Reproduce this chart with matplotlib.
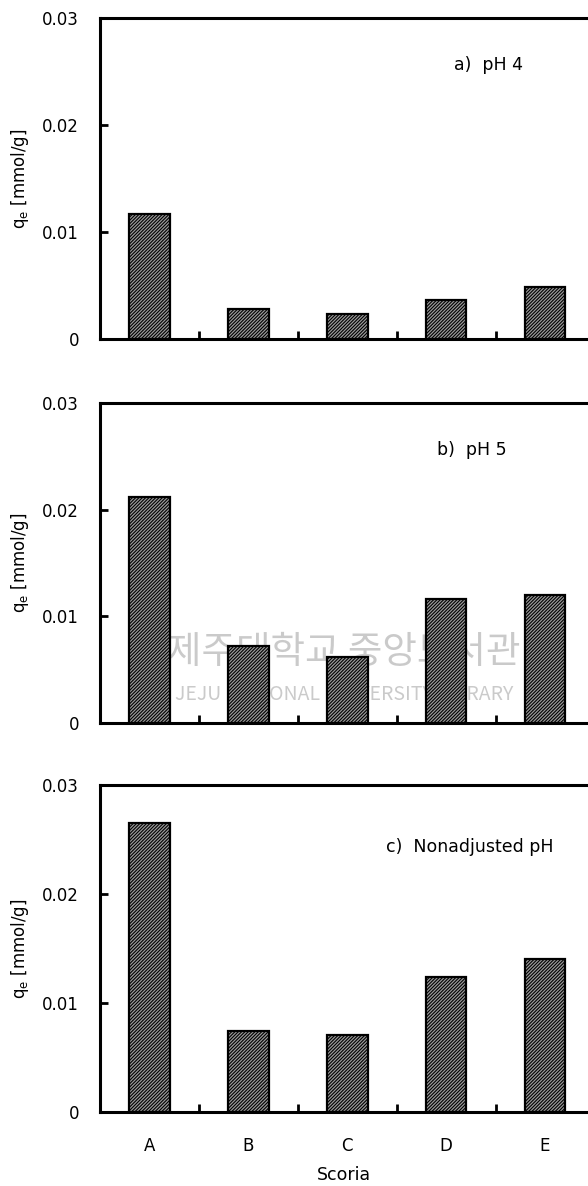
import matplotlib
matplotlib.use("Agg")
import matplotlib.pyplot as plt
from matplotlib.ticker import FixedLocator, FixedFormatter

categories = ["A", "B", "C", "D", "E"]
ph4 = [0.0117, 0.0028, 0.0023, 0.0036, 0.0049]
ph5 = [0.0212, 0.0072, 0.0062, 0.0116, 0.0120]
nonadj = [0.0265, 0.0074, 0.0071, 0.0124, 0.0140]
panel_labels = ["a)  pH 4", "b)  pH 5", "c)  Nonadjusted pH"]
ytick_vals = [0, 0.01, 0.02, 0.03]
ytick_labels = ["0", "0.01", "0.02", "0.03"]

plt.rcParams['font.family'] = ['DejaVu Sans']
plt.rcParams['hatch.linewidth'] = 0.8
plt.rcParams['hatch.color'] = '#303030'

W, H = 588, 1186
fig = plt.figure(figsize=(W / 100, H / 100), dpi=100)

# (top_px, bottom_px) for each panel
boxes = [(18, 339), (403, 723), (785, 1112)]
left_px = 100
series = [ph4, ph5, nonadj]
label_pos = [(488, 65), (472, 450), (470, 847)]

x = list(range(len(categories)))
for i, ((top, bot), vals) in enumerate(zip(boxes, series)):
    ax = fig.add_axes([left_px / W, 1 - bot / H, 1 - left_px / W, (bot - top) / H])
    ax.bar(x, vals, width=0.41, facecolor='#9a9a9a', edgecolor='black',
           linewidth=1.6, hatch='//////////', zorder=3)
    ax.set_xlim(-0.5, (W - 149) / 99.0)
    ax.set_ylim(0, 0.03)
    for s in ['left', 'top', 'bottom']:
        ax.spines[s].set_linewidth(2.2)
        ax.spines[s].set_zorder(5)
    ax.spines['right'].set_visible(False)
    ax.yaxis.set_major_locator(FixedLocator(ytick_vals))
    ax.yaxis.set_major_formatter(FixedFormatter(ytick_labels))
    ax.tick_params(axis='y', direction='in', length=6, width=2, labelsize=12, pad=15)
    ax.xaxis.set_major_locator(FixedLocator(x))
    ax.xaxis.set_minor_locator(FixedLocator([0.5, 1.5, 2.5, 3.5]))
    ax.tick_params(axis='x', which='minor', direction='in', length=6, width=2)
    ax.tick_params(axis='x', which='major', length=0, labelsize=12, pad=18)
    if i < 2:
        ax.set_xticklabels([])
    else:
        ax.set_xticklabels(categories)
        ax.set_xlabel("Scoria", fontsize=12.5, labelpad=8)
    ax.set_ylabel(r"q$_\mathregular{e}$ [mmol/g]", fontsize=12)
    ax.yaxis.set_label_coords((31 - left_px) / (W - left_px), 0.5)
    lx, ly = label_pos[i]
    fig.text(lx / W, 1 - ly / H, panel_labels[i], fontsize=12.5, ha='center', va='center')
    if i == 1:
        ax.text(0.5, 0.22, "제주대학교 중앙도서관", transform=ax.transAxes,
                fontsize=27, color='#a8a8a8', alpha=0.6, ha='center', va='center',
                family=['Noto Sans CJK KR', 'DejaVu Sans'], zorder=1)
        ax.text(0.5, 0.09, "JEJU NATIONAL UNIVERSITY LIBRARY", transform=ax.transAxes,
                fontsize=14, color='#a8a8a8', alpha=0.6, ha='center', va='center',
                family=['Noto Sans CJK KR', 'DejaVu Sans'], zorder=1)

fig.savefig("out.png", dpi=100)
